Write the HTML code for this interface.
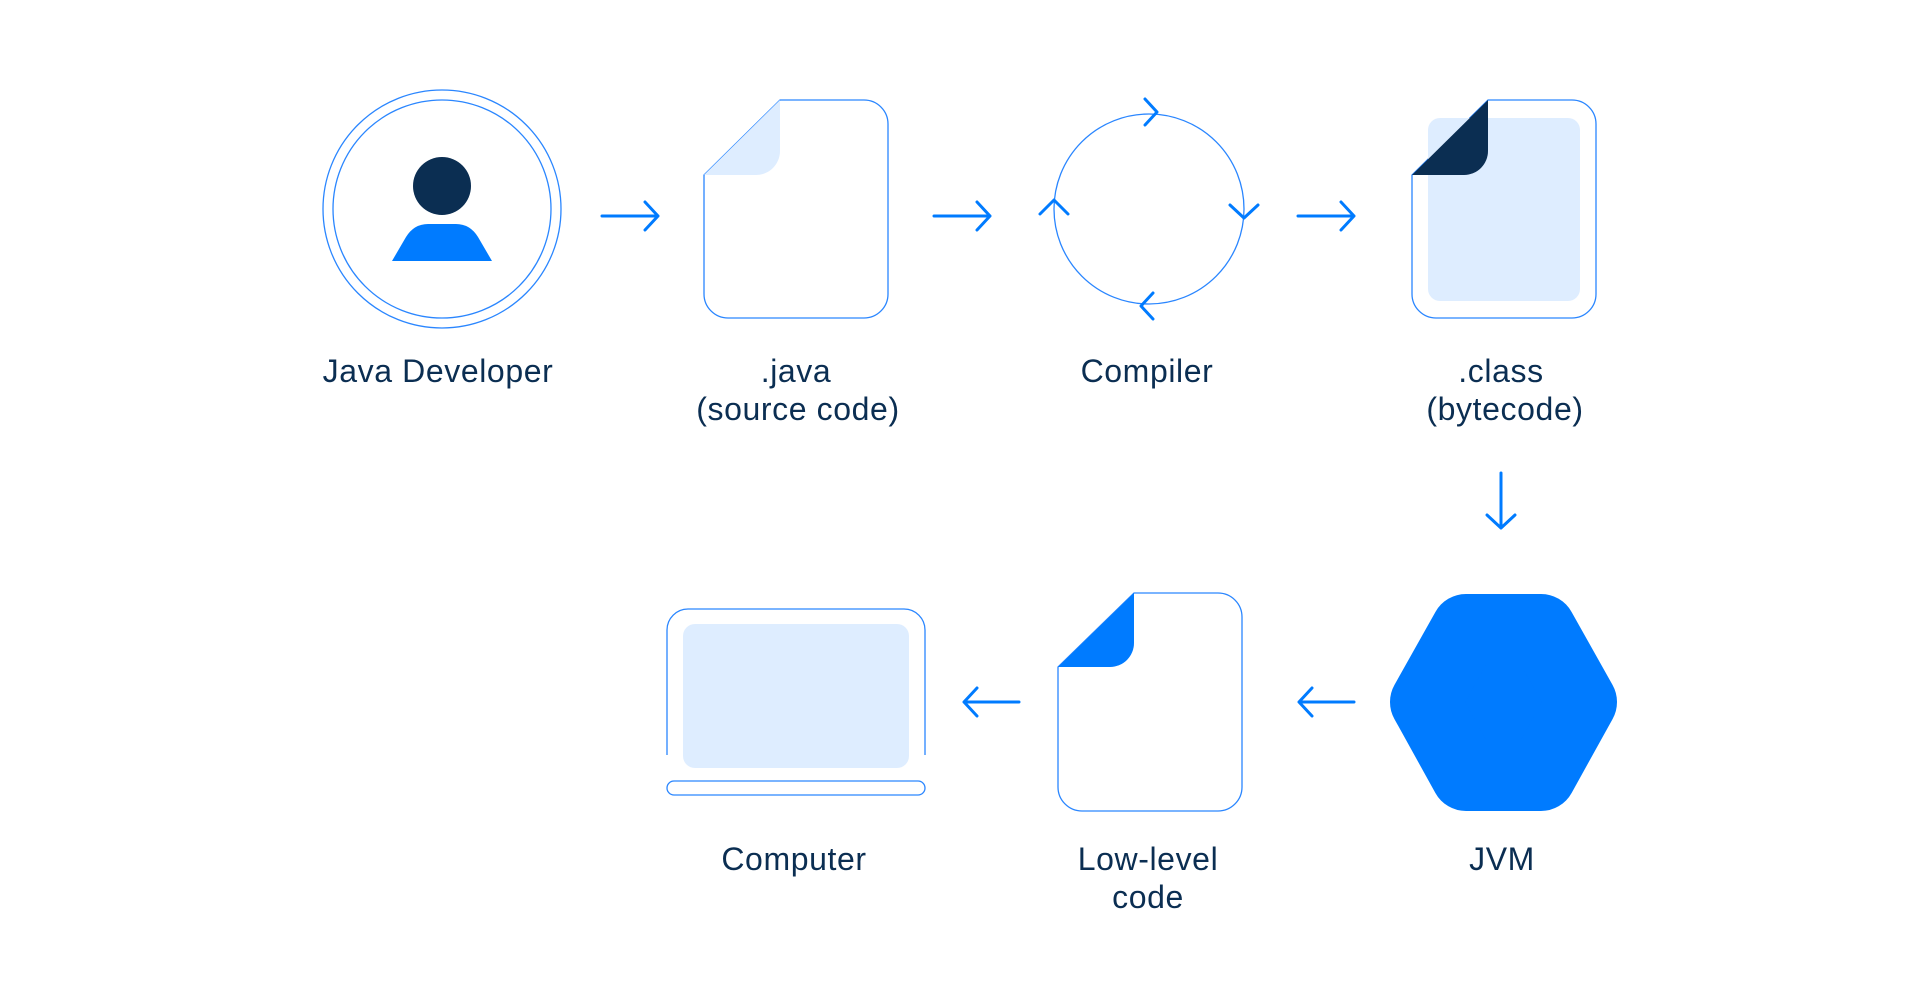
<!DOCTYPE html>
<html><head><meta charset="utf-8"><style>
html,body{margin:0;padding:0;background:#fff;}
svg{display:block;}
text{font-family:"Liberation Sans",sans-serif;font-size:32px;letter-spacing:0.6px;fill:#0b2e52;text-anchor:middle;}
</style></head><body>
<svg width="1920" height="1001" viewBox="0 0 1920 1001" xmlns="http://www.w3.org/2000/svg">
<g fill="none" stroke="#2a86ff" stroke-width="1.3">
  <circle cx="442" cy="209" r="119"/>
  <circle cx="442" cy="209" r="109"/>
  <path d="M780 100 H864 A24 24 0 0 1 888 124 V294 A24 24 0 0 1 864 318 H728 A24 24 0 0 1 704 294 V175 Z"/>
  <circle cx="1149" cy="209" r="95"/>
  <path d="M1488 100 H1572 A24 24 0 0 1 1596 124 V294 A24 24 0 0 1 1572 318 H1436 A24 24 0 0 1 1412 294 V175 Z"/>
  <path d="M1134 593 H1218 A24 24 0 0 1 1242 617 V787 A24 24 0 0 1 1218 811 H1082 A24 24 0 0 1 1058 787 V667 Z"/>
  <path d="M667 755 V630 A21 21 0 0 1 688 609 H904 A21 21 0 0 1 925 630 V755"/>
  <rect x="667" y="781" width="258" height="14" rx="7"/>
</g>
<circle cx="442" cy="186" r="29" fill="#0b2e52"/>
<path d="M392 261 L406 237 Q414 224 428 224 H456 Q470 224 478 237 L492 261 Z" fill="#007bff"/>
<path d="M780 100 V151 A24 24 0 0 1 756 175 H704 Z" fill="#deedff"/>
<rect x="1428" y="118" width="152" height="183" rx="12" fill="#deedff"/>
<path d="M1488 100 V151 A24 24 0 0 1 1464 175 H1412 Z" fill="#0b2e52"/>
<path d="M1134 593 V643 A24 24 0 0 1 1110 667 H1058 Z" fill="#007bff"/>
<rect x="683" y="624" width="226" height="144" rx="12" fill="#deedff"/>
<polygon points="1425,702 1466,629 1541,629 1582,702 1541,776 1466,776" fill="#007bff" stroke="#007bff" stroke-width="70" stroke-linejoin="round"/>
<g fill="none" stroke="#007bff" stroke-width="3" stroke-linecap="round" stroke-linejoin="round">
  <path d="M602 216 H658 M645 202 L658 216 L645 230"/>
  <path d="M934 216 H990 M977 202 L990 216 L977 230"/>
  <path d="M1298 216 H1354 M1341 202 L1354 216 L1341 230"/>
  <path d="M1501 473 V528 M1487 515 L1501 528 L1515 515"/>
  <path d="M1354 702 H1299 M1312 688 L1299 702 L1312 716"/>
  <path d="M1019 702 H964 M977 688 L964 702 L977 716"/>
  <path d="M1145 99 L1157 112 L1145 125"/>
  <path d="M1153 293 L1141 306 L1153 319"/>
  <path d="M1230 205 L1244 218 L1258 205"/>
  <path d="M1040 214 L1054 200 L1068 214"/>
</g>
<text x="438" y="382">Java Developer</text>
<text x="796" y="382">.java</text>
<text x="798" y="420">(source code)</text>
<text x="1147" y="382">Compiler</text>
<text x="1501" y="382">.class</text>
<text x="1505" y="420">(bytecode)</text>
<text x="794" y="870">Computer</text>
<text x="1148" y="870">Low-level</text>
<text x="1148" y="908">code</text>
<text x="1502" y="870">JVM</text>
</svg>
</body></html>
